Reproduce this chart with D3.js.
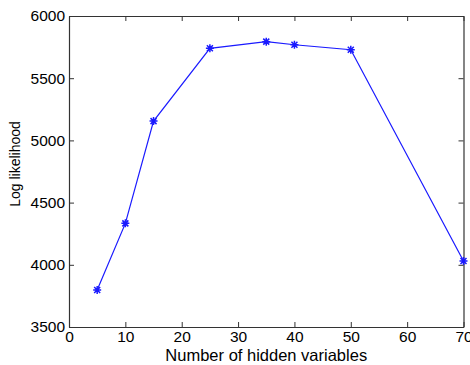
<!DOCTYPE html>
<html>
<head>
<meta charset="utf-8">
<script src="https://cdn.jsdelivr.net/npm/d3@7"></script>
<style>
  body { margin: 0; background: #fff; }
  svg text { font-family: "Liberation Sans", Arial, sans-serif; fill: #000; }
</style>
</head>
<body>
<svg id="chart" width="470" height="365"></svg>
<script>
// chart data
const hiddenVars = [5, 10, 15, 25, 35, 40, 50, 70];
const logLik = [3797, 4333, 5155, 5740, 5794, 5769, 5729, 4030];
const xTicks = [0, 10, 20, 30, 40, 50, 60, 70];
const yTicks = [3500, 4000, 4500, 5000, 5500, 6000];

const margin = { left: 69, top: 16, right: 6.5, bottom: 38 };
const width = 470 - margin.left - margin.right;
const height = 365 - margin.top - margin.bottom;

const svg = d3.select('#chart')
  .append('g')
  .attr('transform', 'translate(' + margin.left + ',' + margin.top + ')');

const x = d3.scaleLinear().domain([0, 70]).range([0, width]);
const y = d3.scaleLinear().domain([3500, 6000]).range([height, 0]);

// axes, ticks pointing inwards like matlab
const tickLen = 5;
const fmt = d3.format('d');
svg.append('g')
  .attr('transform', 'translate(0,' + height + ')')
  .call(d3.axisBottom(x).tickValues(xTicks).tickFormat(fmt).tickSizeInner(-tickLen).tickSizeOuter(0).tickPadding(4));
svg.append('g')
  .call(d3.axisTop(x).tickValues(xTicks).tickSizeInner(-tickLen).tickSizeOuter(0).tickFormat(''));
svg.append('g')
  .call(d3.axisLeft(y).tickValues(yTicks).tickFormat(fmt).tickSizeInner(-tickLen).tickSizeOuter(0).tickPadding(4));
svg.append('g')
  .attr('transform', 'translate(' + width + ',0)')
  .call(d3.axisRight(y).tickValues(yTicks).tickSizeInner(-tickLen).tickSizeOuter(0).tickFormat(''));

svg.selectAll('.domain').attr('stroke', '#333').attr('stroke-width', 1.2);
svg.selectAll('.tick line').attr('stroke', '#333');
svg.selectAll('.tick text').attr('font-size', 15.5);

// line
const pts = hiddenVars.map((v, i) => [v, logLik[i]]);
svg.append('path')
  .datum(pts)
  .attr('fill', 'none')
  .attr('stroke', '#1a1aff')
  .attr('stroke-width', 1.2)
  .attr('d', d3.line().x(d => x(d[0])).y(d => y(d[1])));

// asterisk markers
const star = 'M-4,0L4,0M0,-4L0,4M-3,-3L3,3M-3,3L3,-3';
svg.selectAll('.mark')
  .data(pts)
  .enter()
  .append('path')
  .attr('transform', d => 'translate(' + x(d[0]) + ',' + y(d[1]) + ')')
  .attr('d', star)
  .attr('stroke', '#1a1aff')
  .attr('stroke-width', 1.5)
  .attr('fill', 'none');

// labels
svg.append('text')
  .attr('x', width / 2)
  .attr('y', height + 34)
  .attr('text-anchor', 'middle')
  .attr('font-size', 16.5)
  .text('Number of hidden variables');

svg.append('text')
  .attr('transform', 'translate(-49,' + (height / 2 - 7.5) + ')rotate(-90)')
  .attr('text-anchor', 'middle')
  .attr('font-size', 14)
  .text('Log likelihood');
</script>
</body>
</html>
